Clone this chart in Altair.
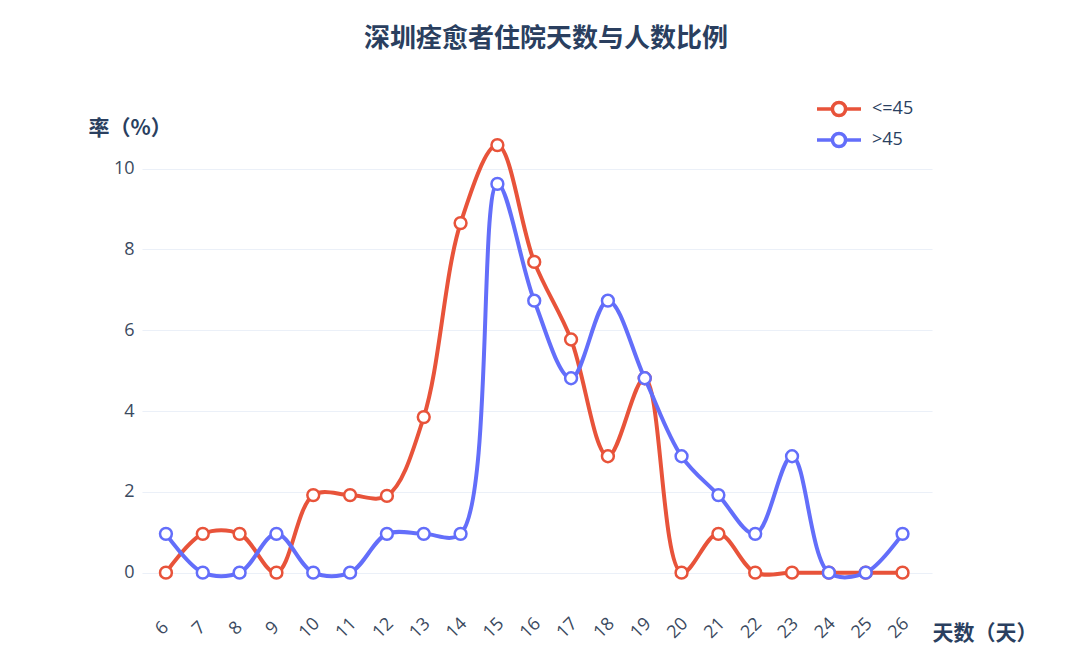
import altair as alt
import pandas as pd

days = list(range(6, 27))
le45 = [0, 0.96, 0.96, 0, 1.92, 1.92, 1.90, 3.85, 8.65, 10.58, 7.69, 5.77, 2.88, 4.81, 0, 0.96, 0, 0, 0, 0, 0]
gt45 = [0.96, 0, 0, 0.96, 0, 0, 0.96, 0.96, 0.96, 9.62, 6.73, 4.81, 6.73, 4.81, 2.88, 1.92, 0.96, 2.88, 0, 0, 0.96]
series = ["<=45", ">45"]
colors = ["#E8533A", "#636EFA"]
y_ticks = [0, 2, 4, 6, 8, 10]

rows = []
for name, vals in zip(series, [le45, gt45]):
    for d, v in zip(days, vals):
        rows.append({"day": d, "rate": v, "group": name})
df = pd.DataFrame(rows)

FONT = "Open Sans"
CJK = "Noto Sans CJK SC"
TXT = "#2a3f5f"

x = alt.X("day:Q", scale=alt.Scale(domain=[5.35, 26.8], nice=False, zero=False),
          axis=alt.Axis(values=days, labelAngle=-45, labelAlign="center", labelBaseline="middle",
                        labelPadding=23, labelOffset=-4, ticks=False, domain=False, grid=False,
                        labelFontSize=18, labelFont=FONT, labelColor="#3b4a60",
                        title="天数（天）", titleFont=CJK, titleFontSize=21, titleFontWeight="bold",
                        titleColor=TXT, titleAngle=0, titleAlign="left", titleBaseline="middle",
                        titleX=790, titleY=28, labelFlush=False, labelOverlap=False))
y = alt.Y("rate:Q", scale=alt.Scale(domain=[-0.8, 11.3], nice=False, zero=False),
          axis=alt.Axis(values=y_ticks, ticks=False, domain=False, grid=True, gridColor="#EBF0F8",
                        gridWidth=1.2, labelPadding=8,
                        labelFontSize=18, labelFont=FONT, labelColor="#3b4a60",
                        title="率（%）", titleFont=CJK, titleFontSize=21, titleFontWeight="bold",
                        titleColor=TXT, titleAngle=0, titleAlign="left", titleBaseline="middle",
                        titleX=-54, titleY=12))

legend_path = "M-2,0L-0.6,0M0.6,0L2,0M-0.6,0A0.6,0.6,0,1,1,0.6,0A0.6,0.6,0,1,1,-0.6,0Z"
color = alt.Color("group:N", scale=alt.Scale(domain=series, range=colors),
                  legend=alt.Legend(title=None, orient="none", legendX=684, legendY=-20,
                                    symbolType=legend_path, symbolSize=484, symbolStrokeWidth=3.5,
                                    symbolFillColor="white", labelFontSize=18, labelFont=FONT,
                                    labelColor=TXT, labelOffset=20, rowPadding=3))

layers = []
for name in series:
    base = alt.Chart(df).transform_filter(alt.datum.group == name)
    layers.append(base.mark_line(interpolate="catmull-rom", strokeWidth=4).encode(x=x, y=y, color=color))
    layers.append(base.mark_point(filled=True, fill="white", size=140, strokeWidth=2.5, opacity=1)
                  .encode(x=x, y=y, stroke=alt.Stroke("group:N", scale=alt.Scale(domain=series, range=colors), legend=None)))

chart = alt.layer(*layers).properties(
    width=790, height=489,
    background="white",
    autosize=alt.AutoSizeParams(type="none"),
    padding={"left": 134, "top": 108, "right": 120, "bottom": 50},
    title=alt.TitleParams("深圳痊愈者住院天数与人数比例", font=CJK, fontSize=26, fontWeight="bold",
                          color=TXT, offset=44, anchor="middle", dx=9),
).configure_view(strokeWidth=0, stroke=None)

chart.save("out.html", embed_options={"renderer": "svg", "actions": False})
